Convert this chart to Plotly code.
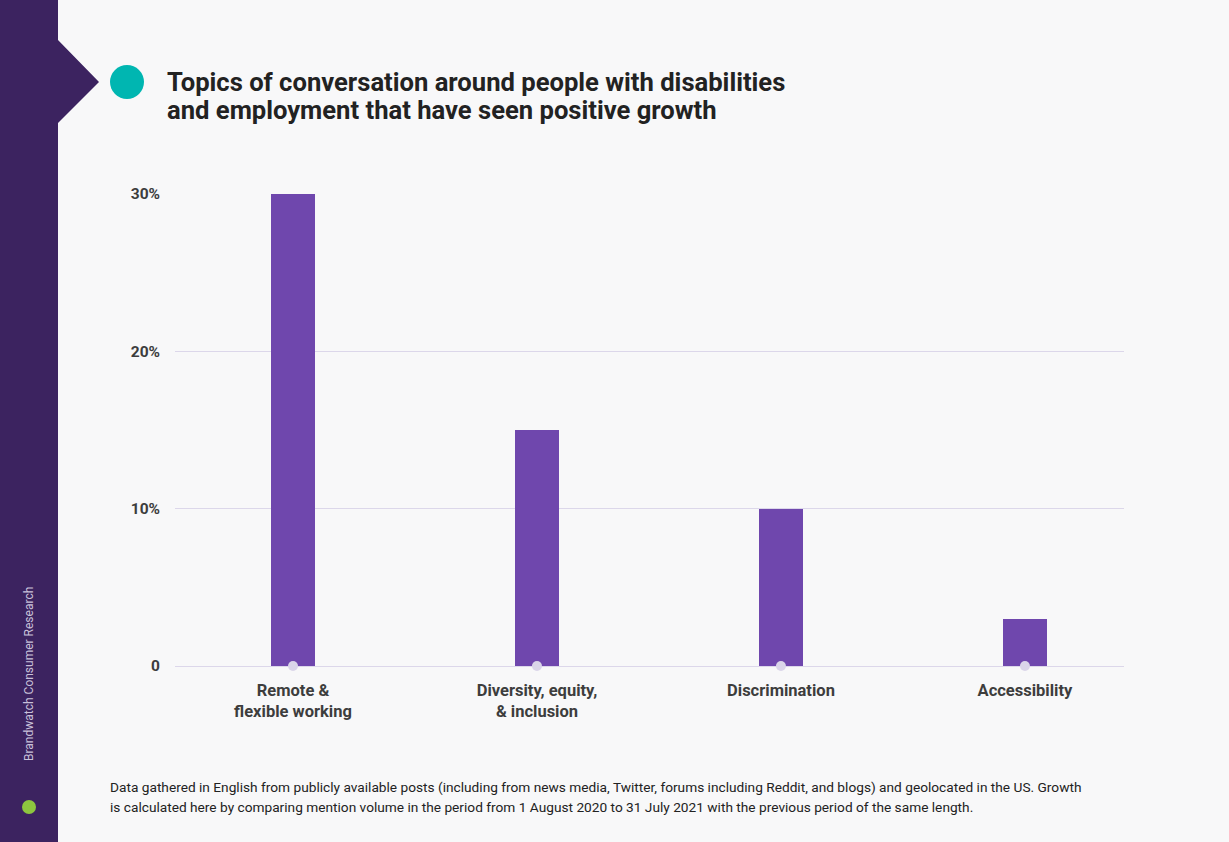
import plotly.graph_objects as go

categories = ["Remote &<br>flexible working", "Diversity, equity,<br>& inclusion", "Discrimination", "Accessibility"]
growth = [30, 15, 10, 3]
tick_vals = [0, 10, 20, 30]
tick_text = ["0", "10%", "20%", "30%"]

W, H = 1229, 842
BG = "#f8f8f9"
SIDEBAR = "#3c2360"
BAR = "#6f47ad"
GRID = "#dcd7ea"
FONT = "Roboto"

def px(x):
    return x / W

def py(y):
    return 1 - y / H

fig = go.Figure()
fig.add_trace(go.Bar(x=categories, y=growth, marker=dict(color=BAR, line=dict(width=0)),
                     width=0.18, hoverinfo="skip"))
fig.add_trace(go.Scatter(x=categories, y=[0] * len(categories), mode="markers",
                         marker=dict(color="#dad5e9", size=10), cliponaxis=False, hoverinfo="skip"))

# sidebar with arrow
pts = [(0, 0), (58, 0), (58, 40), (99, 82), (58, 123), (58, 842), (0, 842)]
path = "M " + " L ".join(f"{px(x)},{py(y)}" for x, y in pts) + " Z"
shapes = [
    dict(type="path", path=path, xref="paper", yref="paper", fillcolor=SIDEBAR, line=dict(width=0), layer="below"),
    dict(type="circle", xref="paper", yref="paper", x0=px(110), x1=px(144), y0=py(99), y1=py(65),
         fillcolor="#00b6b1", line=dict(width=0)),
    dict(type="circle", xref="paper", yref="paper", x0=px(22), x1=px(36), y0=py(814), y1=py(800),
         fillcolor="#8dc63f", line=dict(width=0)),
]

annotations = [
    dict(text="Topics of conversation around people with disabilities", x=px(165), y=py(82),
         xref="paper", yref="paper", xanchor="left", yanchor="middle", showarrow=False,
         font=dict(family=FONT, size=25.6, color="#222222", weight="bold")),
    dict(text="and employment that have seen positive growth", x=px(165), y=py(110),
         xref="paper", yref="paper", xanchor="left", yanchor="middle", showarrow=False,
         font=dict(family=FONT, size=25.6, color="#222222", weight="bold")),
    dict(text="Data gathered in English from publicly available posts (including from news media, Twitter, forums including Reddit, and blogs) and geolocated in the US. Growth",
         x=px(108), y=py(787), xref="paper", yref="paper", xanchor="left", yanchor="middle", showarrow=False,
         font=dict(family=FONT, size=13.7, color="#222222")),
    dict(text="is calculated here by comparing mention volume in the period from 1 August 2020 to 31 July 2021 with the previous period of the same length.",
         x=px(108), y=py(807), xref="paper", yref="paper", xanchor="left", yanchor="middle", showarrow=False,
         font=dict(family=FONT, size=13.7, color="#222222")),
    dict(text="Brandwatch Consumer Research", x=px(29), y=py(674), xref="paper", yref="paper",
         xanchor="center", yanchor="middle", textangle=-90, showarrow=False,
         font=dict(family=FONT, size=12, color="#c9c1da")),
]

fig.update_layout(
    width=W, height=H,
    margin=dict(l=0, r=0, t=0, b=0),
    paper_bgcolor=BG, plot_bgcolor=BG,
    showlegend=False,
    shapes=shapes,
    annotations=annotations,
    bargap=0,
    xaxis=dict(domain=[px(175), px(1124)], range=[-0.4836, 3.406], showgrid=False, zeroline=False,
               showline=False, ticks="", automargin=False, ticklabelstandoff=12,
               tickfont=dict(family=FONT, size=16.5, color="#3d3d3d", weight="bold"),
               fixedrange=True),
    yaxis=dict(domain=[py(666), py(194)], range=[0, 30], tickvals=tick_vals, ticktext=tick_text,
               showgrid=True, gridcolor=GRID, gridwidth=1, zeroline=True, zerolinecolor=GRID, zerolinewidth=1,
               showline=False, ticks="", ticklabelstandoff=14, automargin=False,
               tickfont=dict(family=FONT, size=15.5, color="#3d3d3d", weight="bold"), fixedrange=True),
)

fig.write_html("out.html")
